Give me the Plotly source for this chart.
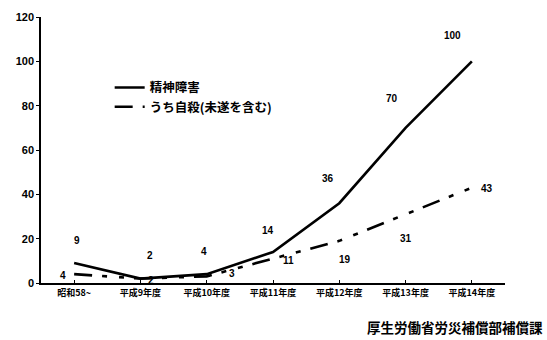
import plotly.graph_objects as go

# 精神障害等の労災認定件数の推移
categories = ["昭和58~", "平成9年度", "平成10年度", "平成11年度", "平成12年度", "平成13年度", "平成14年度"]
mental_disorders = [9, 2, 4, 14, 36, 70, 100]
suicides = [4, 2, 3, 11, 19, 31, 43]
series_names = ["精神障害", "うち自殺(未遂を含む)"]
y_ticks = [0, 20, 40, 60, 80, 100, 120]
source_text = "厚生労働省労災補償部補償課"

# per-point label offsets in pixels (dx, dy; dy positive = downward)
mental_label_offsets = [(3, -23), (10, -23), (-3, -23), (-5, -21), (-11, -25), (-14, -29), (-19, -26)]
suicide_label_offsets = [(-11, 1), (11, 2), (25, -3), (15, 2), (6, 19), (0, 24), (15, 1)]

LABEL_FONT = dict(family="Liberation Sans, Arial, sans-serif", size=10, color="black", weight="bold")
CJK_FONT = "Noto Sans CJK JP, sans-serif"

x_idx = list(range(len(categories)))

fig = go.Figure()
fig.add_trace(go.Scatter(
    x=x_idx, y=mental_disorders, mode="lines", name=series_names[0],
    line=dict(color="black", width=2.6),
))
fig.add_trace(go.Scatter(
    x=x_idx, y=suicides, mode="lines", name=series_names[1],
    line=dict(color="black", width=2.6, dash="18px,10px,5px,12px,5px,10px"),
))

annotations = []
for i, (v, (dx, dy)) in enumerate(zip(mental_disorders, mental_label_offsets)):
    annotations.append(dict(x=i, y=v, xref="x", yref="y", text=str(v), showarrow=False,
                            xshift=dx, yshift=-dy, font=LABEL_FONT))
for i, (v, (dx, dy)) in enumerate(zip(suicides, suicide_label_offsets)):
    annotations.append(dict(x=i, y=v, xref="x", yref="y", text=str(v), showarrow=False,
                            xshift=dx, yshift=-dy, font=LABEL_FONT))
annotations.append(dict(x=1.086, y=-0.165, xref="paper", yref="paper", text=source_text,
                        showarrow=False, xanchor="right", yanchor="middle",
                        font=dict(family=CJK_FONT, size=13.5, color="black", weight="bold")))

fig.update_layout(
    width=547, height=340,
    margin=dict(l=41, r=42, t=17, b=57),
    paper_bgcolor="white", plot_bgcolor="white",
    showlegend=True,
    legend=dict(x=0.148, y=0.79, xanchor="left", yanchor="top",
                bgcolor="rgba(0,0,0,0)",
                font=dict(family=CJK_FONT, size=12.5, color="black", weight="bold"),
                itemwidth=30, tracegroupgap=0),
    annotations=annotations,
)
fig.update_xaxes(
    range=[-0.5, len(categories) - 0.5],
    tickmode="array", tickvals=x_idx, ticktext=categories,
    tickson="boundaries", ticks="inside", ticklen=3, tickcolor="black",
    showline=True, linecolor="black", linewidth=1.5,
    showgrid=False, zeroline=False,
    tickfont=dict(family=CJK_FONT, size=9, color="black", weight="bold"),
)
fig.update_yaxes(
    range=[0, 120], tickvals=y_ticks,
    ticks="outside", ticklen=3, tickcolor="black",
    showline=True, linecolor="black", linewidth=1.5,
    showgrid=False, zeroline=False,
    tickfont=dict(family="Liberation Sans, Arial, sans-serif", size=11, color="black", weight="bold"),
)

fig.write_html("out.html")
